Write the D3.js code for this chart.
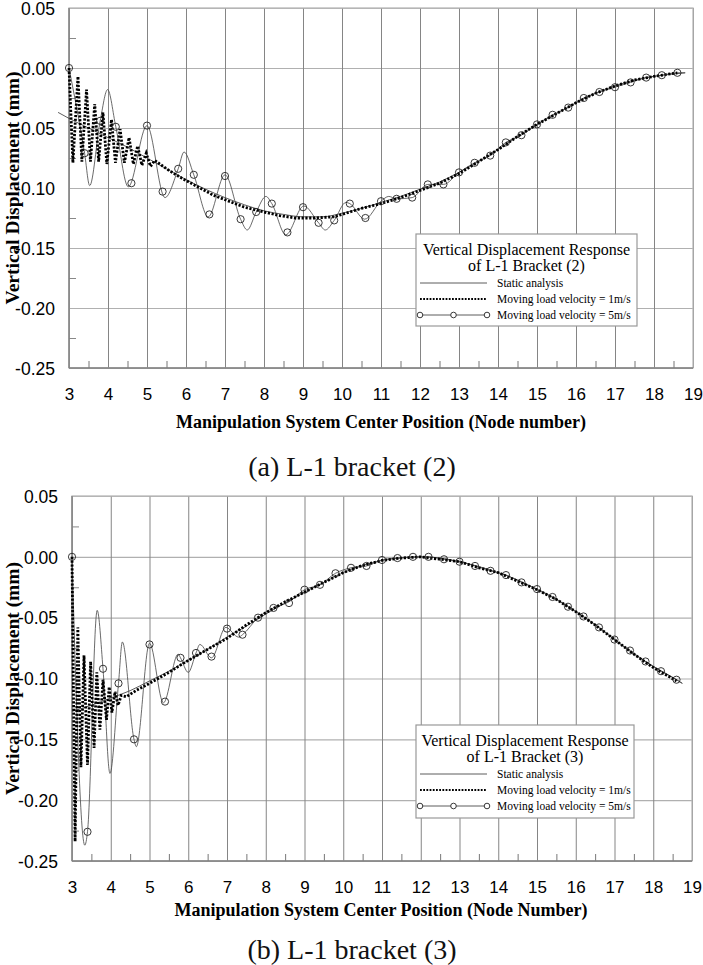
<!DOCTYPE html>
<html><head><meta charset="utf-8">
<script src="https://cdn.jsdelivr.net/npm/d3@7"></script>
<style>body{margin:0;background:#fff}svg{display:block}</style>
</head><body>
<svg id="c" width="703" height="965"></svg>
<script>
// ---------------- DATA ----------------
const xTickValues = [3,4,5,6,7,8,9,10,11,12,13,14,15,16,17,18,19];
const xTickLabels = ["3","4","5","6","7","8","9","10","11","12","13","14","15","16","17","18","19"];
const xMinorTicks = [3.5,4.5,5.5,6.5,7.5,8.5,9.5,10.5,11.5,12.5,13.5,14.5,15.5,16.5,17.5,18.5];
const yTickValues = [0.05,0,-0.05,-0.10,-0.15,-0.20,-0.25];
const yTickLabels = ["0.05","0.00","-0.05","-0.10","-0.15","-0.20","-0.25"];
const yMinorTicks = [0.025,-0.025,-0.075,-0.125,-0.175,-0.225];
const legendEntries = ["Static analysis","Moving load velocity = 1m/s","Moving load velocity = 5m/s"];

// Chart (a) L-1 bracket (2)
const staticA = [[2.72,-0.037],[3.0,-0.042],[3.5,-0.050],[4.0,-0.058],[4.5,-0.066],[5.0,-0.075],[5.5,-0.084],[6.0,-0.093],[6.5,-0.101],[7.0,-0.108],[7.5,-0.114],[8.0,-0.119],[8.5,-0.122],[9.0,-0.124],[9.5,-0.124],[10.0,-0.121],[10.5,-0.117],[11.0,-0.112],[11.5,-0.107],[12.0,-0.101],[12.5,-0.095],[13.0,-0.087],[13.5,-0.078],[14.0,-0.068],[14.5,-0.057],[15.0,-0.047],[15.5,-0.038],[16.0,-0.029],[16.5,-0.021],[17.0,-0.015],[17.5,-0.010],[18.0,-0.007],[18.5,-0.005],[18.8,-0.004]];
const v1A = [[3.0,0.0],[3.1,-0.079],[3.23,-0.007],[3.33,-0.078],[3.45,-0.018],[3.55,-0.078],[3.66,-0.030],[3.76,-0.078],[3.87,-0.037],[3.97,-0.080],[4.09,-0.043],[4.19,-0.079],[4.31,-0.051],[4.42,-0.079],[4.54,-0.058],[4.65,-0.080],[4.76,-0.065],[4.87,-0.081],[4.98,-0.071],[5.09,-0.082],[5.2,-0.077],[5.5,-0.084],[5.9,-0.092],[6.3,-0.099],[6.7,-0.106],[7.1,-0.111],[7.5,-0.116],[8.0,-0.120],[8.4,-0.123],[8.8,-0.125],[9.3,-0.125],[9.8,-0.124],[10.1,-0.121],[10.5,-0.117],[11.0,-0.113],[11.5,-0.108],[12.0,-0.102],[12.5,-0.096],[13.0,-0.088],[13.5,-0.078],[14.0,-0.068],[14.5,-0.057],[15.0,-0.047],[15.5,-0.038],[16.0,-0.029],[16.5,-0.021],[17.0,-0.015],[17.5,-0.010],[18.0,-0.007],[18.6,-0.004]];
const v5LineA = [[3.0,0.0],[3.4,-0.071],[3.53,-0.098],[3.8,-0.044],[3.99,-0.018],[4.2,-0.049],[4.52,-0.099],[5.0,-0.048],[5.46,-0.108],[5.8,-0.084],[5.95,-0.070],[6.2,-0.089],[6.57,-0.124],[7.0,-0.089],[7.4,-0.126],[7.57,-0.135],[7.8,-0.120],[8.05,-0.107],[8.2,-0.113],[8.56,-0.139],[9.02,-0.115],[9.4,-0.129],[9.57,-0.135],[9.8,-0.127],[10.1,-0.112],[10.2,-0.113],[10.58,-0.126],[11.0,-0.111],[11.2,-0.107],[11.4,-0.109],[11.8,-0.108],[12.2,-0.097],[12.6,-0.097],[13.0,-0.087],[13.4,-0.079],[13.8,-0.073],[14.2,-0.062],[14.6,-0.056],[15.0,-0.047],[15.4,-0.039],[15.8,-0.033],[16.2,-0.025],[16.6,-0.020],[17.0,-0.016],[17.4,-0.012],[17.8,-0.008],[18.2,-0.006],[18.6,-0.004],[18.8,-0.004]];
const v5MarkA = [[3.0,0.0],[3.4,-0.071],[3.8,-0.044],[4.2,-0.049],[4.6,-0.096],[5.0,-0.048],[5.4,-0.103],[5.8,-0.084],[6.2,-0.089],[6.6,-0.122],[7.0,-0.090],[7.4,-0.126],[7.8,-0.120],[8.2,-0.113],[8.6,-0.137],[9.0,-0.116],[9.4,-0.129],[9.8,-0.127],[10.2,-0.113],[10.6,-0.125],[11.0,-0.111],[11.4,-0.109],[11.8,-0.108],[12.2,-0.097],[12.6,-0.097],[13.0,-0.087],[13.4,-0.079],[13.8,-0.073],[14.2,-0.062],[14.6,-0.056],[15.0,-0.047],[15.4,-0.039],[15.8,-0.033],[16.2,-0.025],[16.6,-0.020],[17.0,-0.016],[17.4,-0.012],[17.8,-0.008],[18.2,-0.006],[18.6,-0.004]];

// Chart (b) L-1 bracket (3)
const staticB = [[3.0,-0.127],[3.5,-0.122],[4.0,-0.116],[4.5,-0.110],[5.0,-0.102],[5.5,-0.094],[6.0,-0.085],[6.5,-0.076],[7.0,-0.066],[7.5,-0.057],[8.0,-0.047],[8.5,-0.038],[9.0,-0.029],[9.5,-0.021],[10.0,-0.013],[10.5,-0.007],[11.0,-0.003],[11.5,-0.001],[12.0,0.0],[12.5,-0.001],[13.0,-0.004],[13.5,-0.008],[14.0,-0.013],[14.5,-0.019],[15.0,-0.027],[15.5,-0.035],[16.0,-0.045],[16.5,-0.056],[17.0,-0.068],[17.5,-0.080],[18.0,-0.090],[18.5,-0.099],[18.75,-0.104]];
const v1B = [[3.0,0.0],[3.08,-0.234],[3.15,-0.058],[3.23,-0.173],[3.31,-0.081],[3.40,-0.171],[3.48,-0.086],[3.57,-0.157],[3.64,-0.095],[3.72,-0.142],[3.80,-0.101],[3.89,-0.134],[3.96,-0.107],[4.03,-0.128],[4.11,-0.111],[4.19,-0.122],[4.27,-0.114],[4.4,-0.115],[4.7,-0.109],[5.0,-0.104],[5.5,-0.095],[5.9,-0.087],[6.5,-0.076],[7.0,-0.067],[7.5,-0.056],[8.0,-0.046],[8.5,-0.037],[9.0,-0.029],[9.5,-0.021],[10.0,-0.013],[10.5,-0.007],[11.0,-0.003],[11.5,-0.001],[12.0,0.0],[12.5,-0.002],[13.0,-0.004],[13.5,-0.009],[14.0,-0.013],[14.5,-0.020],[15.0,-0.027],[15.5,-0.035],[16.0,-0.045],[16.5,-0.056],[17.0,-0.068],[17.5,-0.080],[18.0,-0.091],[18.6,-0.102]];
const v5LineB = [[3.0,0.0],[3.33,-0.237],[3.4,-0.226],[3.65,-0.044],[3.8,-0.092],[3.98,-0.178],[4.2,-0.104],[4.3,-0.070],[4.6,-0.150],[4.66,-0.156],[5.0,-0.071],[5.36,-0.120],[5.74,-0.080],[5.8,-0.083],[6.0,-0.095],[6.2,-0.079],[6.3,-0.072],[6.6,-0.083],[6.97,-0.058],[7.3,-0.066],[7.4,-0.064],[7.8,-0.050],[8.2,-0.042],[8.6,-0.037],[9.0,-0.027],[9.4,-0.023],[9.8,-0.0135],[10.2,-0.009],[10.6,-0.0075],[11.0,-0.0026],[11.4,-0.001],[11.8,0.0],[12.2,0.0],[12.6,-0.002],[13.0,-0.004],[13.4,-0.0075],[13.8,-0.0115],[14.2,-0.015],[14.6,-0.021],[15.0,-0.0265],[15.4,-0.033],[15.8,-0.041],[16.2,-0.049],[16.6,-0.058],[17.0,-0.068],[17.4,-0.077],[17.8,-0.086],[18.2,-0.094],[18.6,-0.101],[18.75,-0.104]];
const v5MarkB = [[3.0,0.0],[3.4,-0.226],[3.8,-0.092],[4.2,-0.104],[4.6,-0.150],[5.0,-0.072],[5.4,-0.119],[5.8,-0.083],[6.2,-0.079],[6.6,-0.082],[7.0,-0.059],[7.4,-0.064],[7.8,-0.050],[8.2,-0.042],[8.6,-0.038],[9.0,-0.027],[9.4,-0.023],[9.8,-0.0135],[10.2,-0.009],[10.6,-0.0075],[11.0,-0.0026],[11.4,-0.001],[11.8,0.0],[12.2,0.0],[12.6,-0.002],[13.0,-0.004],[13.4,-0.0075],[13.8,-0.0115],[14.2,-0.015],[14.6,-0.021],[15.0,-0.0265],[15.4,-0.033],[15.8,-0.041],[16.2,-0.049],[16.6,-0.058],[17.0,-0.068],[17.4,-0.077],[17.8,-0.086],[18.2,-0.094],[18.6,-0.101]];

// ---------------- DRAWING ----------------
const svg = d3.select("#c");
svg.append("rect").attr("width",703).attr("height",965).attr("fill","#fff");
const SANS = "'Liberation Sans', Arial, sans-serif";
const SERIF = "'Liberation Serif', 'Times New Roman', serif";

function drawChart(cfg) {
  const g = svg.append("g");
  const x = d3.scaleLinear().domain([3,19]).range([cfg.left, cfg.right]);
  const y = d3.scaleLinear().domain([-0.25,0.05]).range([cfg.bottom, cfg.top]);
  const W = cfg.right - cfg.left, H = cfg.bottom - cfg.top;

  g.append("g").attr("transform",`translate(${cfg.left},0)`)
    .call(d3.axisLeft(y).tickValues(yTickValues).tickSize(-W).tickFormat(""))
    .call(s=>s.select(".domain").remove())
    .selectAll("line").attr("stroke","#b0b0b0").attr("stroke-width",1.2);
  g.append("g").attr("transform",`translate(0,${cfg.bottom})`)
    .call(d3.axisBottom(x).tickValues(xTickValues).tickSize(-H).tickFormat(""))
    .call(s=>s.select(".domain").remove())
    .selectAll("line").attr("stroke","#858585").attr("stroke-width",1);
  g.append("rect").attr("x",cfg.left).attr("y",cfg.top).attr("width",W).attr("height",H)
    .attr("fill","none").attr("stroke","#b8b8b8").attr("stroke-width",1.3);
  g.append("g").attr("transform",`translate(0,${cfg.bottom})`)
    .call(d3.axisBottom(x).tickValues(xMinorTicks).tickSize(-7).tickFormat(""))
    .call(s=>s.select(".domain").remove())
    .selectAll("line").attr("stroke","#777").attr("stroke-width",1);
  g.append("g").attr("transform",`translate(${cfg.left},0)`)
    .call(d3.axisLeft(y).tickValues(yMinorTicks).tickSize(-7).tickFormat(""))
    .call(s=>s.select(".domain").remove())
    .selectAll("line").attr("stroke","#888").attr("stroke-width",1);
  g.append("line").attr("x1",cfg.left).attr("x2",cfg.left).attr("y1",cfg.top).attr("y2",cfg.bottom)
    .attr("stroke","#808080").attr("stroke-width",1.4);
  g.append("line").attr("x1",cfg.left).attr("x2",cfg.right).attr("y1",cfg.bottom).attr("y2",cfg.bottom)
    .attr("stroke","#808080").attr("stroke-width",1.4);

  const ya = g.append("g").attr("transform",`translate(${cfg.left},0)`)
    .call(d3.axisLeft(y).tickValues(yTickValues).tickSize(0).tickPadding(14)
      .tickFormat((d,i)=>yTickLabels[i]));
  ya.select(".domain").remove();
  ya.selectAll("text").attr("font-family",SANS).attr("font-size",17.5).attr("fill","#000").attr("dy","0.36em");
  const xa = g.append("g").attr("transform",`translate(0,${cfg.bottom})`)
    .call(d3.axisBottom(x).tickValues(xTickValues).tickSize(0)
      .tickFormat((d,i)=>xTickLabels[i]));
  xa.select(".domain").remove();
  xa.selectAll("text").attr("font-family",SANS).attr("font-size",17).attr("fill","#000")
    .attr("y",26).attr("dy","0.36em");

  g.append("text").attr("x",381).attr("y",cfg.xTitleY).attr("dy","0.35em")
    .attr("text-anchor","middle").attr("font-family",SERIF).attr("font-weight","bold")
    .attr("font-size",18).text(cfg.xTitle);
  g.append("text").attr("transform",`translate(${cfg.yTitleX},${(cfg.top+cfg.bottom)/2}) rotate(-90)`)
    .attr("dy","0.35em").attr("text-anchor","middle").attr("font-family",SERIF).attr("font-weight","bold")
    .attr("font-size",19.5).text("Vertical Displacement (mm)");
  g.append("text").attr("x",352).attr("y",cfg.captionY).attr("text-anchor","middle")
    .attr("font-family",SERIF).attr("font-size",28).attr("fill","#111").text(cfg.caption);

  const smooth = d3.line().x(d=>x(d[0])).y(d=>y(d[1])).curve(d3.curveMonotoneX);
  const linear = d3.line().x(d=>x(d[0])).y(d=>y(d[1]));
  g.append("path").attr("d",smooth(cfg.stat)).attr("fill","none").attr("stroke","#333").attr("stroke-width",0.8);
  g.append("path").attr("d",smooth(cfg.v5Line)).attr("fill","none").attr("stroke","#444").attr("stroke-width",0.8);
  g.append("path").attr("d",linear(cfg.v1)).attr("fill","none").attr("stroke","#000")
    .attr("stroke-width",2.8).attr("stroke-dasharray","2.2,1.6");
  g.selectAll("circle.m").data(cfg.v5Mark).join("circle").attr("class","m")
    .attr("cx",d=>x(d[0])).attr("cy",d=>y(d[1])).attr("r",3.6)
    .attr("fill","none").attr("stroke","#222").attr("stroke-width",0.9);

  const L = cfg.legend;
  const lg = g.append("g");
  lg.append("rect").attr("x",L.x).attr("y",L.y).attr("width",L.w).attr("height",L.h)
    .attr("fill","#fff").attr("stroke","#999").attr("stroke-width",1.2);
  lg.append("text").attr("x",L.x+L.w/2).attr("y",L.y+15).attr("dy","0.35em").attr("text-anchor","middle")
    .attr("font-family",SERIF).attr("font-size",16).text(cfg.legendTitle[0]);
  lg.append("text").attr("x",L.x+L.w/2).attr("y",L.y+31).attr("dy","0.35em").attr("text-anchor","middle")
    .attr("font-family",SERIF).attr("font-size",16).text(cfg.legendTitle[1]);
  const ey = [L.y+49, L.y+65, L.y+81];
  const sx0 = L.x+4, sx1 = L.x+71;
  lg.append("line").attr("x1",sx0).attr("x2",sx1).attr("y1",ey[0]).attr("y2",ey[0]).attr("stroke","#333").attr("stroke-width",0.8);
  lg.append("line").attr("x1",sx0).attr("x2",sx1).attr("y1",ey[1]).attr("y2",ey[1]).attr("stroke","#000")
    .attr("stroke-width",2).attr("stroke-dasharray","1.8,1.4");
  lg.append("line").attr("x1",sx0).attr("x2",sx1).attr("y1",ey[2]).attr("y2",ey[2]).attr("stroke","#333").attr("stroke-width",0.8);
  [sx0,(sx0+sx1)/2,sx1].forEach(cx=>lg.append("circle").attr("cx",cx).attr("cy",ey[2]).attr("r",2.8)
    .attr("fill","#fff").attr("stroke","#222").attr("stroke-width",0.9));
  legendEntries.forEach((t,i)=>lg.append("text").attr("x",L.x+81).attr("y",ey[i]).attr("dy","0.35em")
    .attr("font-family",SERIF).attr("font-size",11.5).text(t));
}

drawChart({left:69,right:693,top:8,bottom:368,xTitleY:422,yTitleX:12,captionY:476,
  xTitle:"Manipulation System Center Position (Node number)",caption:"(a) L-1 bracket (2)",
  legend:{x:416,y:234,w:221,h:92},legendTitle:["Vertical Displacement Response","of L-1 Bracket (2)"],
  stat:staticA,v1:v1A,v5Line:v5LineA,v5Mark:v5MarkA});
drawChart({left:72,right:692,top:496,bottom:861,xTitleY:910,yTitleX:12,captionY:959,
  xTitle:"Manipulation System Center Position (Node Number)",caption:"(b) L-1 bracket (3)",
  legend:{x:416,y:725,w:218,h:93},legendTitle:["Vertical Displacement Response","of L-1 Bracket (3)"],
  stat:staticB,v1:v1B,v5Line:v5LineB,v5Mark:v5MarkB});
</script>
</body></html>
